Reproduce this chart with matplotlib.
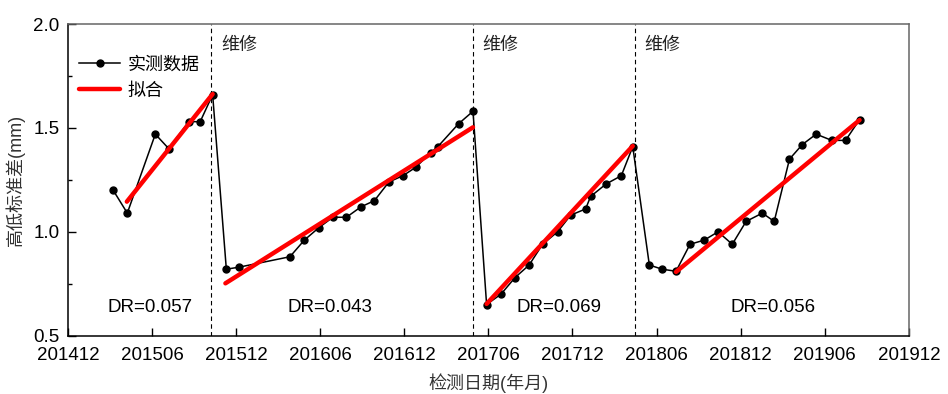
import numpy as np
import pandas as pd
import matplotlib
matplotlib.use("Agg")
import matplotlib.pyplot as plt
from matplotlib.ticker import MultipleLocator

plt.rcParams['font.family'] = ['Liberation Sans', 'Noto Sans CJK SC']
plt.rcParams['axes.unicode_minus'] = False

# measured track irregularity (std dev, mm) per inspection date
dates = ['2015-03-08', '2015-04-08', '2015-06-08', '2015-07-07', '2015-08-20',
         '2015-09-14', '2015-10-11',
         '2015-11-10', '2015-12-08', '2016-03-27', '2016-04-27', '2016-05-29',
         '2016-06-28', '2016-07-28', '2016-08-29', '2016-09-27', '2016-10-29',
         '2016-11-28', '2016-12-26', '2017-01-28', '2017-02-12', '2017-03-28',
         '2017-04-28',
         '2017-05-28', '2017-06-28', '2017-07-29', '2017-08-29', '2017-09-27',
         '2017-10-30', '2017-11-27', '2017-12-30', '2018-01-10', '2018-02-12',
         '2018-03-16', '2018-04-10',
         '2018-05-16', '2018-06-13', '2018-07-13', '2018-08-13', '2018-09-13',
         '2018-10-13', '2018-11-13', '2018-12-13', '2019-01-18', '2019-02-12',
         '2019-03-16', '2019-04-13', '2019-05-13', '2019-06-16', '2019-07-16',
         '2019-08-16']
std_mm = [1.20, 1.09, 1.47, 1.40, 1.53, 1.53, 1.66,
          0.82, 0.83, 0.88, 0.96, 1.02, 1.07, 1.07, 1.12, 1.15, 1.24,
          1.27, 1.31, 1.38, 1.41, 1.52, 1.58,
          0.65, 0.70, 0.78, 0.84, 0.94, 1.00, 1.08, 1.11, 1.17, 1.23,
          1.27, 1.41,
          0.84, 0.82, 0.81, 0.94, 0.96, 1.00, 0.94, 1.05, 1.09, 1.05,
          1.35, 1.42, 1.47, 1.44, 1.44, 1.54]

# linear fit per maintenance cycle: (start date, start value, end date, end value)
fit_start = ['2015-04-07', '2015-11-08', '2017-05-28', '2018-07-13']
fit_start_val = [1.145, 0.752, 0.653, 0.807]
fit_end = ['2015-10-11', '2017-04-28', '2018-04-10', '2019-08-16']
fit_end_val = [1.663, 1.503, 1.413, 1.538]
dr_labels = ['DR=0.057', 'DR=0.043', 'DR=0.069', 'DR=0.056']
dr_dates = ['2015-05-27', '2016-06-22', '2017-11-03', '2019-02-10']

maintenance = ['2015-10-08', '2017-04-28', '2018-04-14']
tick_labels = ['201412', '201506', '201512', '201606', '201612', '201706',
               '201712', '201806', '201812', '201906', '201912']


def to_month(d):
    # months elapsed since 2014-12-01
    t = pd.to_datetime(pd.Series(d))
    return ((t.dt.year - 2014) * 12 + t.dt.month - 12
            + (t.dt.day - 1) / t.dt.days_in_month).to_numpy()


x = to_month(dates)
fig = plt.figure(figsize=(9.48, 3.94), dpi=100)
ax = fig.add_axes([0.0717, 0.148, 0.887, 0.791])

ax.plot(x, std_mm, color='black', lw=1.1, marker='o', ms=5, zorder=3,
        label='实测数据')

xs, xe = to_month(fit_start), to_month(fit_end)
for i in range(len(xs)):
    ax.plot([xs[i], xe[i]], [fit_start_val[i], fit_end_val[i]], color='red',
            lw=3.2, solid_capstyle='round', zorder=4,
            label='拟合' if i == 0 else None)

for m in to_month(maintenance):
    ax.axvline(m, color='black', lw=0.8, ls=(0, (4, 3)), zorder=2)
    ax.annotate('维修', xy=(m, 1.94), xytext=(7, 0), textcoords='offset points',
                ha='left', va='top', fontsize=13, color='#222222')

for lab, m in zip(dr_labels, to_month(dr_dates)):
    ax.text(m, 0.635, lab, ha='center', va='center', fontsize=13.5)

ax.set_xlim(0, 60)
ax.set_ylim(0.5, 2.0)
ax.set_xticks(np.arange(0, 61, 6))
ax.set_xticklabels(tick_labels)
ax.yaxis.set_major_locator(MultipleLocator(0.5))
ax.yaxis.set_minor_locator(MultipleLocator(0.25))
ax.tick_params(axis='both', which='major', direction='in', length=6,
               width=1, labelsize=13.5)
ax.tick_params(axis='x', which='major', pad=8)
ax.tick_params(axis='y', which='major', pad=6)
ax.tick_params(axis='y', which='minor', direction='in', length=3, width=1)
ax.tick_params(top=False, right=False)

for s in ['left', 'bottom']:
    ax.spines[s].set_color('black')
    ax.spines[s].set_linewidth(1.1)
for s in ['top', 'right']:
    ax.spines[s].set_color('#666666')
    ax.spines[s].set_linewidth(1.1)

ax.set_xlabel('检测日期(年月)', fontsize=13, color='#333333', labelpad=7)
ax.set_ylabel('高低标准差(mm)', fontsize=13, color='#333333', labelpad=6)

ax.legend(loc='upper left', bbox_to_anchor=(0.0, 0.93), frameon=False,
          fontsize=13, handlelength=2.3, handletextpad=0.4, labelspacing=0.5,
          borderaxespad=0.2)

fig.savefig('out.png', dpi=100)
